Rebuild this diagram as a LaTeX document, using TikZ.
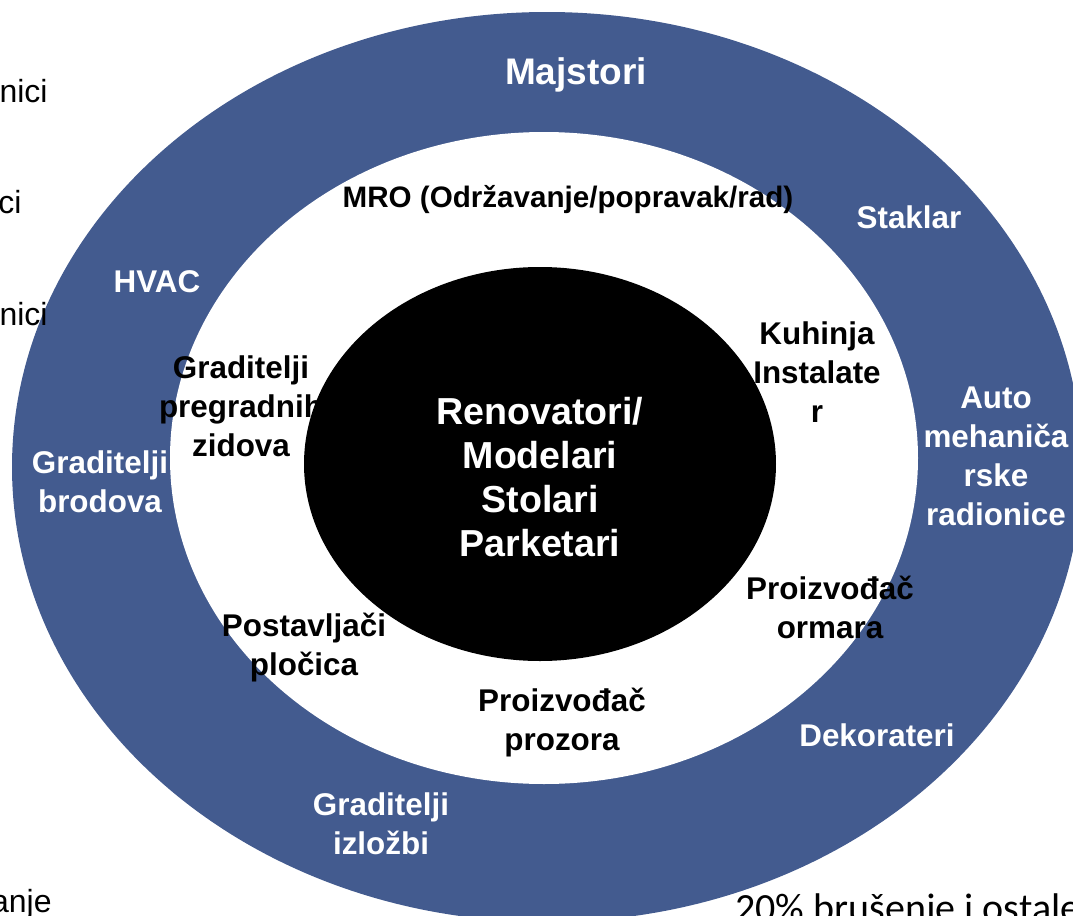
\documentclass[tikz,border=0pt]{standalone}
\usepackage{fontspec}
\setmainfont{Liberation Sans}
\newfontfamily\calibrifont{Carlito}
\usetikzlibrary{positioning}
\definecolor{ringblue}{RGB}{67,91,143}
\tikzset{
  outerlbl/.style={text=white, align=center, font=\bfseries\fontsize{15.7}{19.5}\selectfont},
  innerlbl/.style={text=black, align=center, font=\bfseries\fontsize{15.7}{19.5}\selectfont},
  corelbl/.style={text=white, align=center, font=\bfseries\fontsize{18.8}{22}\selectfont},
  cutlbl/.style={inner sep=0pt, font=\fontsize{16}{19}\selectfont},
}

\begin{document}
\begin{tikzpicture}[x=0.5pt, y=-0.5pt]
  \useasboundingbox (0,0) rectangle (1073,916);
  \clip (0,0) rectangle (1073,916);
  % prstenovi
  \fill[ringblue] (547,467) ellipse [x radius=267.5pt, y radius=227.5pt];
  \fill[white]    (544,458) ellipse [x radius=187pt, y radius=163pt];
  % odrezani tekst na rubovima
  \node[cutlbl, anchor=base east] (lijevo1) at (48,102)  {nici};
  \node[cutlbl, anchor=base east] (lijevo2) at (22,213)  {ci};
  \node[cutlbl, anchor=base east] (lijevo3) at (48,325)  {nici};
  \node[cutlbl, anchor=base east] (lijevo4) at (52,912)  {anje};
  \node[cutlbl, anchor=base west, font=\calibrifont\fontsize{20}{24}\selectfont]
                                  (desno1) at (735,921) {20\% brušenje i ostale};
  % vanjski prsten
  \node[outerlbl, font=\bfseries\fontsize{18.5}{22}\selectfont] (majstori) at (576,75) {Majstori};
  \node[outerlbl] (staklar)  at (909,217) {Staklar};
  \node[outerlbl] (hvac)     at (157,282) {HVAC};
  \node[outerlbl] (brodovi)  at (100,482) {Graditelji\\brodova};
  \node[outerlbl] (auto)     at (996,456) {Auto\\mehaniča\\rske\\radionice};
  \node[outerlbl] (dekor)    at (877,735) {Dekorateri};
  \node[outerlbl] (izlozbe)  at (381,824) {Graditelji\\izložbi};
  % srednji prsten
  \node[innerlbl, font=\bfseries\fontsize{14.8}{18}\selectfont] (mro) at (568,200) {MRO (Održavanje/popravak/rad)};
  \node[innerlbl] (zidovi)   at (241,406) {Graditelji\\pregradnih\\zidova};
  \node[innerlbl] (kuhinja)  at (817,372) {Kuhinja\\Instalate\\r};
  \node[innerlbl] (ormari)   at (830,607) {Proizvođač\\ormara};
  \node[innerlbl] (plocice)  at (304,648) {Postavljači\\pločica};
  \node[innerlbl] (prozori)  at (562,723) {Proizvođač\\prozora};
  % jezgra
  \fill[black] (540,464) ellipse [x radius=118pt, y radius=98.5pt];
  \node[corelbl] (jezgra) at (540,477) {Renovatori/\\Modelari\\Stolari\\Parketari};
\end{tikzpicture}
\end{document}
